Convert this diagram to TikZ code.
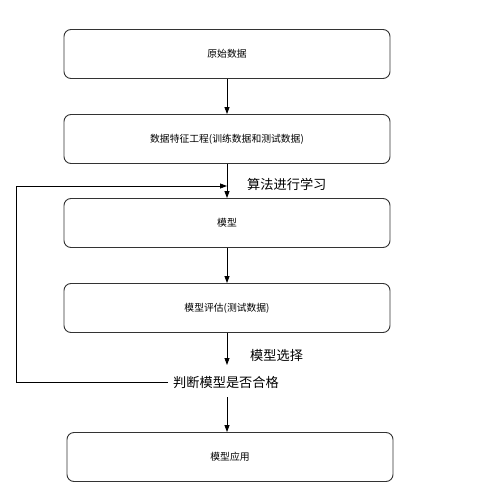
\documentclass[tikz,border=0pt]{standalone}
\usepackage{fontspec}
\setmainfont{Noto Sans CJK SC}
\usetikzlibrary{arrows.meta}
\begin{document}
\begin{tikzpicture}[x=1pt,y=-1pt,
  stepbox/.style={draw=black!80,line width=0.9pt,rounded corners=7pt,minimum width=326pt,minimum height=49pt,font=\fontsize{9.8}{11}\selectfont,inner sep=0pt},
  lbl/.style={font=\fontsize{13.2}{15}\selectfont,inner sep=1pt},
  conn/.style={draw=black,line width=0.8pt,-{Triangle[length=7pt,width=5pt]}}]
\useasboundingbox (0,0) rectangle (484,500);
\node[stepbox] (b1) at (227,54) {原始数据};
\node[stepbox] (b2) at (227,139) {数据特征工程(训练数据和测试数据)};
\node[stepbox] (b3) at (227,223) {模型};
\node[stepbox] (b4) at (227,308) {模型评估(测试数据)};
\node[lbl,inner xsep=5pt] (j) at (226,382) {判断模型是否合格};
\node[stepbox] (b5) at (230,457) {模型应用};
\node[lbl,anchor=west] (l1) at (246,184) {算法进行学习};
\node[lbl,anchor=west] (l2) at (249,355) {模型选择};
\coordinate (m) at (227,186);
\coordinate (jt) at (227,365);
\coordinate (jb) at (227,397);
\coordinate (c1) at (16,382);
\coordinate (c2) at (16,186);
\draw[conn] (b1.south) -- (b2.north);
\draw[conn] (b2.south) -- (b3.north);
\draw[conn] (b3.south) -- (b4.north);
\draw[conn] (b4.south) -- (jt);
\draw[conn] (jb) -- (b5.north -| jb);
\draw[conn] (j.west) -- (c1) -- (c2) -- (m);
\end{tikzpicture}
\end{document}
